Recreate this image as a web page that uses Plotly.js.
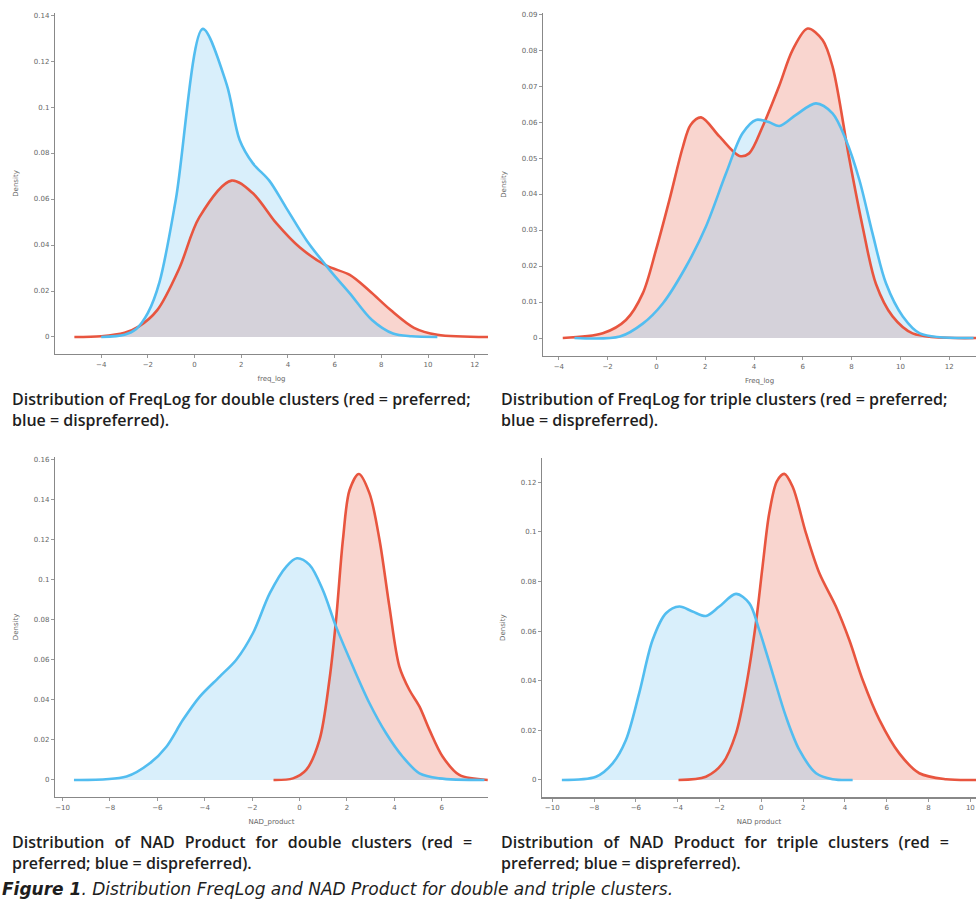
<!DOCTYPE html>
<html>
<head>
<meta charset="utf-8">
<script src="https://cdn.plot.ly/plotly-3.0.1.min.js"></script>
<style>html,body{margin:0;padding:0;background:#fff;}#chart{width:976px;height:901px;}</style>
</head>
<body>
<div id="chart"></div>
<script>
// ---- Panel 1: FreqLog, double clusters ----
const p1RedX  = [-5.15,-4,-3,-2.4,-1.6,-0.65,0.2,1.58,2.5,3.5,4.5,5.65,6.65,7.5,8.4,9.4,10.4,12.6];
const p1RedY  = [0,0.0003,0.0018,0.0045,0.0117,0.030,0.052,0.068,0.0625,0.0495,0.039,0.031,0.027,0.020,0.0117,0.004,0.001,0];
const p1BlueX = [-4,-3,-2.5,-2.0,-1.5,-0.8,0.35,1.37,1.93,2.5,3.2,3.9,4.8,5.8,6.65,7.6,8.5,9.3,10.4];
const p1BlueY = [0,0.001,0.0035,0.0105,0.024,0.060,0.134,0.110,0.0857,0.0755,0.068,0.0566,0.042,0.029,0.019,0.0074,0.0015,0.0003,0];
// ---- Panel 2: FreqLog, triple clusters ----
const p2RedX  = [-3.84,-2.2,-1.25,-0.56,-0.02,0.53,1.08,1.4,1.83,2.58,3.4,3.8,4.35,5.03,5.58,6.2,6.81,7.22,7.9,8.45,9.0,9.68,10.5,13.1];
const p2RedY  = [0,0.0013,0.005,0.0124,0.0244,0.0383,0.053,0.0592,0.0613,0.056,0.0506,0.0513,0.0587,0.070,0.080,0.086,0.0828,0.0754,0.050,0.031,0.015,0.006,0.0013,0];
const p2BlueX = [-3.36,-1.5,-0.56,0.26,1.21,2.03,2.85,3.53,4.08,4.6,5.04,5.72,6.54,7.22,7.77,8.32,8.86,9.41,10.1,10.8,13.0];
const p2BlueY = [0,0.0004,0.004,0.0096,0.0198,0.031,0.0457,0.0569,0.0606,0.060,0.0589,0.062,0.0652,0.0624,0.055,0.0439,0.029,0.0152,0.006,0.0013,0];
// ---- Panel 3: NAD product, double clusters ----
const p3RedX  = [-1.1,-0.28,0.28,0.84,1.26,1.54,1.83,2.11,2.5,2.95,3.37,3.79,4.21,4.63,5.06,5.48,6.04,6.74,7.94];
const p3RedY  = [0,0.0008,0.005,0.020,0.050,0.080,0.12,0.1447,0.1527,0.143,0.12,0.0865,0.0566,0.045,0.0366,0.025,0.0116,0.0025,0];
const p3BlueX = [-9.52,-7.3,-6.32,-5.62,-4.92,-4.21,-3.37,-2.67,-1.97,-1.26,-0.56,-0.11,0.42,0.98,1.54,2.25,2.95,3.65,4.35,5.06,5.9,7.8];
const p3BlueY = [0,0.0017,0.0083,0.0166,0.030,0.0416,0.0516,0.060,0.0732,0.0931,0.1065,0.1106,0.1073,0.0948,0.0765,0.0566,0.0383,0.0233,0.0116,0.0033,0.0008,0];
// ---- Panel 4: NAD product, triple clusters ----
const p4RedX  = [-3.96,-2.65,-1.85,-1.21,-0.73,-0.26,0.06,0.38,0.75,1.1,1.5,2.14,2.78,3.57,4.21,4.85,5.65,6.6,7.56,8.84,10.27];
const p4RedY  = [0,0.0013,0.0067,0.0188,0.0376,0.0632,0.086,0.1075,0.1205,0.1234,0.1182,0.0994,0.0833,0.0699,0.0564,0.0403,0.0242,0.0107,0.0027,0.0003,0];
const p4BlueX = [-9.54,-7.91,-7.11,-6.48,-5.84,-5.2,-4.56,-3.92,-3.29,-2.65,-2.01,-1.21,-0.57,-0.1,0.54,1.18,1.82,2.62,3.41,4.37];
const p4BlueY = [0,0.0013,0.0067,0.016,0.035,0.0564,0.0672,0.0699,0.0679,0.0661,0.0699,0.075,0.0712,0.0605,0.043,0.0255,0.0121,0.0027,0.0003,0];

const xTitles = ["freq_log","Freq_log","NAD_product","NAD product"];
const yTitle = "Density";
const S = "\u00A0\u00A0\u200A";
const captions = [
  "Distribution of FreqLog for double clusters (red = preferred;<br>blue = dispreferred).",
  "Distribution of FreqLog for triple clusters (red = preferred;<br>blue = dispreferred).",
  ["Distribution","of","NAD","Product","for","double","clusters","(red","="].join(S) + "<br>preferred; blue = dispreferred).",
  ["Distribution","of","NAD","Product","for","triple","clusters","(red","="].join(S) + "<br>preferred; blue = dispreferred)."
];
const figCaption = "<b>Figure 1</b>. Distribution FreqLog and NAD Product for double and triple clusters.";

const RED = "#e8553f", BLUE = "#52bdf0";
const RED_FILL = "rgba(231,87,63,0.25)", BLUE_FILL = "rgba(136,205,242,0.32)";

const panels = [
  {rx:p1RedX, ry:p1RedY, bx:p1BlueX, by:p1BlueY},
  {rx:p2RedX, ry:p2RedY, bx:p2BlueX, by:p2BlueY},
  {rx:p3RedX, ry:p3RedY, bx:p3BlueX, by:p3BlueY},
  {rx:p4RedX, ry:p4RedY, bx:p4BlueX, by:p4BlueY}
];

const W = 976, H = 901;
const boxes = [
  {l:55,  r:488, b:354,   t:13,    xr:[-5.98,12.57], yr:[-0.0074,0.1409], dy:0.02},
  {l:543, r:976, b:356,   t:13,    xr:[-4.65,13.1],  yr:[-0.005,0.0903],  dy:0.01},
  {l:55,  r:488, b:797,   t:456.7, xr:[-10.32,7.95], yr:[-0.0085,0.1613], dy:0.02},
  {l:542, r:976, b:797.3, t:458,   xr:[-10.49,10.27],yr:[-0.007,0.1298],  dy:0.02}
];

const traces = [];
const layout = {
  width:W, height:H, margin:{l:0,r:0,t:0,b:0},
  paper_bgcolor:"#fff", plot_bgcolor:"#fff", showlegend:false,
  font:{family:"DejaVu Sans, sans-serif", size:7, color:"#666"},
  annotations:[]
};

panels.forEach((p,i)=>{
  const k = i===0 ? "" : String(i+1);
  const xa = "x"+k, ya = "y"+k;
  const common = {xaxis:xa, yaxis:ya, mode:"lines", hoverinfo:"skip"};
  traces.push(Object.assign({x:p.rx, y:p.ry, fill:"tozeroy", fillcolor:RED_FILL, line:{width:0, shape:"spline", smoothing:0.9}}, common));
  traces.push(Object.assign({x:p.bx, y:p.by, fill:"tozeroy", fillcolor:BLUE_FILL, line:{width:0, shape:"spline", smoothing:0.9}}, common));
  traces.push(Object.assign({x:p.rx, y:p.ry, line:{color:RED, width:2.6, shape:"spline", smoothing:0.9}}, common));
  traces.push(Object.assign({x:p.bx, y:p.by, line:{color:BLUE, width:2.6, shape:"spline", smoothing:0.9}}, common));

  const bx = boxes[i];
  layout["xaxis"+k] = {
    domain:[bx.l/W, bx.r/W], range:bx.xr, anchor:ya, dtick:2, tick0:0,
    showgrid:false, zeroline:false, showline:true, linecolor:"#888", linewidth:1.2,
    ticks:"outside", ticklen:3, tickcolor:"#999", tickfont:{size:7, color:"#666"},
    title:{text:xTitles[i], font:{size:7, color:"#666"}, standoff:8}
  };
  layout["yaxis"+k] = {
    domain:[1-bx.b/H, 1-bx.t/H], range:bx.yr, anchor:xa, dtick:bx.dy, tick0:0,
    showgrid:false, zeroline:false, showline:true, linecolor:"#888", linewidth:1.2,
    ticks:"outside", ticklen:3, tickcolor:"#999", tickfont:{size:7, color:"#666"},
    title:{text:yTitle, font:{size:7, color:"#666"}, standoff:14}
  };
});

const CAP_FONT = {family:"Open Sans, sans-serif", size:16, color:"#1e1e1e", weight:600};
const capPos = [[10,409],[499,409],[10,852],[499,852]];
captions.forEach((c,i)=>{
  layout.annotations.push({
    text:c, xref:"paper", yref:"paper", x:capPos[i][0]/W, y:1-capPos[i][1]/H,
    xanchor:"left", yanchor:"middle", align:"left", showarrow:false,
    font:CAP_FONT
  });
});
layout.annotations.push({
  text:"<i>"+figCaption+"</i>", xref:"paper", yref:"paper", x:0, y:1-889/H,
  xanchor:"left", yanchor:"middle", align:"left", showarrow:false,
  font:{family:"DejaVu Sans, sans-serif", size:17, color:"#1e1e1e"}
});

Plotly.newPlot("chart", traces, layout, {staticPlot:true});
</script>
</body>
</html>
